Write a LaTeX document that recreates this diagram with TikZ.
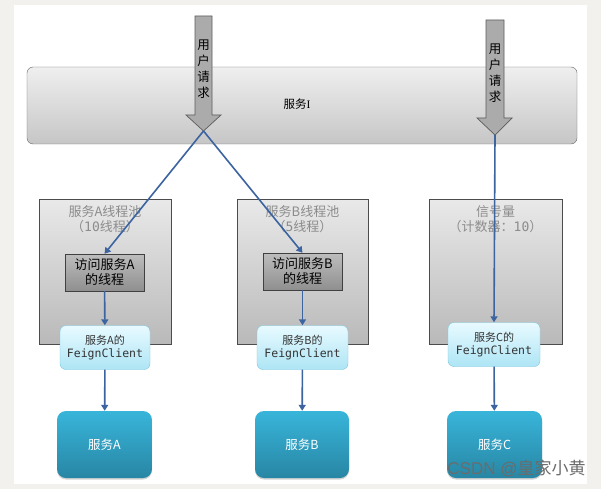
\documentclass[tikz,border=0pt]{standalone}
\usepackage{fontspec}
\usetikzlibrary{arrows.meta,shadows}
\newfontfamily\cjk{Noto Sans CJK SC}
\newfontfamily\codefont{DejaVu Sans Mono}
\newfontfamily\romanI{Liberation Serif}
\newfontfamily\wmlatin{Liberation Sans}

\definecolor{pageout}{HTML}{F2F1EE}
\definecolor{svcItop}{HTML}{EFEFEF}
\definecolor{svcIbot}{HTML}{C6C6C6}
\definecolor{poolTop}{HTML}{E9E9E9}
\definecolor{poolBot}{HTML}{B9B9B9}
\definecolor{thrTop}{HTML}{BDBDBD}
\definecolor{thrBot}{HTML}{8F8F8F}
\definecolor{feignTop}{HTML}{E8FAFF}
\definecolor{feignBot}{HTML}{AEE5F5}
\definecolor{feignLine}{HTML}{7CC6DE}
\definecolor{svcTop}{HTML}{38B5DA}
\definecolor{svcBot}{HTML}{2886A4}
\definecolor{flow}{HTML}{3B64A0}
\definecolor{reqFill}{HTML}{ABABAB}
\definecolor{reqLine}{HTML}{5C5C5C}
\definecolor{poolText}{HTML}{8C8C8C}

\tikzset{
  svcI/.style={draw=black!60, rounded corners=6pt, top color=svcItop, bottom color=svcIbot,
    minimum width=550pt, minimum height=77pt, inner sep=0pt},
  svcIlabel/.style={inner sep=0pt, font=\cjk\fontsize{11.5}{13}\selectfont},
  reqarrow/.style={fill=reqFill, draw=reqLine, line width=0.7pt},
  reqtext/.style={align=center, inner sep=0pt, font=\cjk\fontsize{12.5}{16}\selectfont},
  pool/.style={draw=black!70, top color=poolTop, bottom color=poolBot,
    minimum width=132pt, minimum height=145pt, inner sep=0pt},
  poollabel/.style={align=center, inner sep=0pt, text=poolText,
    font=\cjk\fontsize{13}{15.5}\selectfont},
  thread/.style={draw=black!75, top color=thrTop, bottom color=thrBot,
    minimum width=79pt, minimum height=37pt, inner sep=0pt, align=center,
    font=\cjk\fontsize{13}{15}\selectfont},
  feign/.style={draw=feignLine, rounded corners=6pt, top color=feignTop, bottom color=feignBot,
    minimum width=90pt, minimum height=44pt, inner sep=0pt, align=center, text=black!80,
    font=\cjk\fontsize{11}{13.5}\selectfont},
  svc/.style={rounded corners=9pt, top color=svcTop, bottom color=svcBot, text=white,
    minimum width=95pt, minimum height=67pt, inner sep=0pt,
    font=\cjk\fontsize{12.5}{15}\selectfont,
    drop shadow={shadow xshift=0pt, shadow yshift=-1.5pt, opacity=0.35}},
  flowline/.style={draw=flow, line width=1.6pt, -{Triangle[length=6pt,width=7pt]}},
}

\begin{document}
\begin{tikzpicture}[x=1pt,y=-1pt]
  % page and canvas
  \fill[pageout] (0,0) rectangle (601,489);
  \fill[white] (14,5) rectangle (587,484);
  \useasboundingbox (0,0) rectangle (601,489);

  % gateway service
  \node[svcI] (gw) at (302,105.5) {};
  \node[svcIlabel] (gwlbl) at (297,104) {服务{\romanI I}};

  % incoming requests
  \draw[reqarrow] (195,16) -- (212,16) -- (212,115) -- (221,115) -- (203.5,131)
    -- (186,115) -- (195,115) -- cycle;
  \node[reqtext] (reqL) at (203.5,69) {用\\户\\请\\求};
  \coordinate (tipL) at (203.5,131);

  \draw[reqarrow] (486,20) -- (504,20) -- (504,118) -- (512,118) -- (495,135)
    -- (477,118) -- (486,118) -- cycle;
  \node[reqtext] (reqR) at (495,73.5) {用\\户\\请\\求};
  \coordinate (tipR) at (495,135);

  % isolation containers
  \node[pool] (poolA) at (105,271.5) {};
  \node[pool, minimum width=131pt] (poolB) at (302.5,271.5) {};
  \node[pool, minimum width=133pt] (poolC) at (495.5,271.5) {};
  \node[poollabel] (poolAlbl) at (105,219.3) {服务A线程池\\（{\codefont 10}线程）};
  \node[poollabel] (poolBlbl) at (302.5,219.3) {服务B线程池\\（{\codefont 5}线程）};
  \node[poollabel] (poolClbl) at (495.5,219.3) {信号量\\（计数器：{\codefont 10}）};

  % worker threads
  \node[thread] (thrA) at (104.5,272.5) {访问服务A\\的线程};
  \node[thread] (thrB) at (302.5,271.5) {访问服务B\\的线程};

  % clients
  \node[feign] (fcA) at (105,347.5) {服务A的\\{\codefont\fontsize{11.5}{13.5}\selectfont FeignClient}};
  \node[feign, minimum width=91pt] (fcB) at (302.5,347.5) {服务B的\\{\codefont\fontsize{11.5}{13.5}\selectfont FeignClient}};
  \node[feign, minimum width=92pt] (fcC) at (494,344.5) {服务C的\\{\codefont\fontsize{11.5}{13.5}\selectfont FeignClient}};

  % downstream services
  \node[svc] (svA) at (104.5,444.5) {服务A};
  \node[svc, minimum width=94pt] (svB) at (302,444.5) {服务B};
  \node[svc] (svC) at (494.5,444.5) {服务C};

  % call flow
  \draw[flowline] (tipL) -- (thrA.north);
  \draw[flowline] (tipL) -- (thrB.north);
  \draw[flowline] (tipR) -- (fcC.north);
  \draw[flowline] (thrA) -- (fcA);
  \draw[flowline] (thrB) -- (fcB);
  \draw[flowline] (fcA) -- (svA);
  \draw[flowline] (fcB) -- (svB);
  \draw[flowline] (fcC) -- (svC);

  % watermark
  \node[inner sep=0pt, text=black!58, font=\fontsize{17}{17}\selectfont] (mark) at (516.5,468)
    {\wmlatin CSDN @\cjk 皇家小黄};
\end{tikzpicture}
\end{document}
